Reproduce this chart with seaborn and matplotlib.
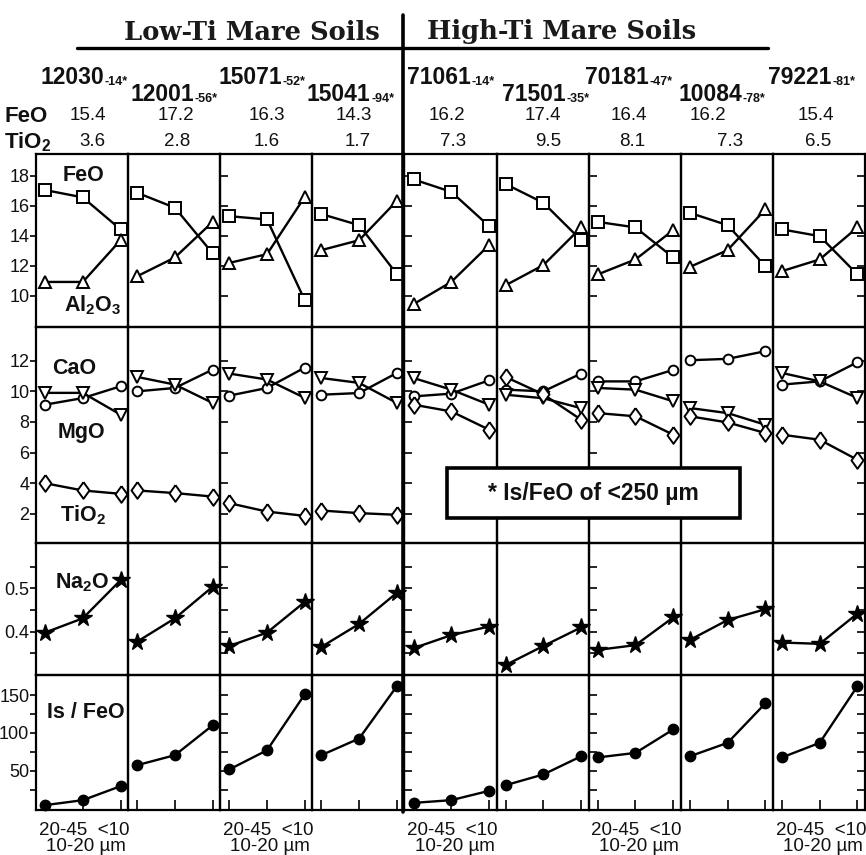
import numpy as np
import pandas as pd
import seaborn as sns
import matplotlib
matplotlib.use("Agg")
import matplotlib.pyplot as plt
from matplotlib.lines import Line2D
from matplotlib.patches import Rectangle

sns.set_theme(style="white")
plt.rcParams["font.family"] = ["Liberation Sans", "DejaVu Sans"]
plt.rcParams["mathtext.fontset"] = "custom"
plt.rcParams["mathtext.rm"] = "Liberation Sans"
plt.rcParams["mathtext.bf"] = "Liberation Sans:bold"
plt.rcParams["mathtext.it"] = "Liberation Sans:italic"

# ---------------- data ----------------
samples = ["12030", "12001", "15071", "15041", "71061", "71501", "70181", "10084", "79221"]
bulk_isfeo = ["-14*", "-56*", "-52*", "-94*", "-14*", "-35*", "-47*", "-78*", "-81*"]
bulk_feo = ["15.4", "17.2", "16.3", "14.3", "16.2", "17.4", "16.4", "16.2", "15.4"]
bulk_tio2 = ["3.6", "2.8", "1.6", "1.7", "7.3", "9.5", "8.1", "7.3", "6.5"]
fractions = ["20-45", "10-20", "<10"]

feo = [[17.05, 16.56, 14.43], [16.87, 15.87, 12.83], [15.31, 15.09, 9.71],
       [15.45, 14.71, 11.45], [17.76, 16.93, 14.65], [17.45, 16.20, 13.71],
       [14.93, 14.56, 12.56], [15.53, 14.71, 11.98], [14.43, 13.98, 11.43]]
al2o3 = [[10.93, 10.93, 13.71], [11.31, 12.56, 14.93], [12.20, 12.78, 16.60],
         [13.05, 13.71, 16.33], [9.45, 10.93, 13.38], [10.71, 12.05, 14.56],
         [11.43, 12.43, 14.38], [11.93, 13.05, 15.76], [11.65, 12.43, 14.56]]
cao = [[9.13, 9.56, 10.33], [10.00, 10.22, 11.42], [9.72, 10.22, 11.55],
       [9.78, 9.89, 11.20], [9.67, 9.85, 10.72], [10.11, 10.00, 11.16],
       [10.65, 10.65, 11.40], [12.03, 12.12, 12.62], [10.44, 10.65, 11.90]]
mgo = [[9.90, 9.90, 8.48], [10.94, 10.44, 9.24], [11.16, 10.77, 9.57],
       [10.87, 10.55, 9.24], [10.87, 10.11, 9.13], [9.78, 9.55, 8.90],
       [10.22, 10.11, 9.35], [8.91, 8.58, 7.82], [11.20, 10.65, 9.57]]
tio2 = [[4.00, 3.53, 3.31], [3.53, 3.36, 3.13], [2.70, 2.15, 1.87],
        [2.22, 2.05, 1.94], [9.13, 8.69, 7.50], [10.94, 9.80, 8.15],
        [8.58, 8.37, 7.17], [8.37, 7.97, 7.28], [7.17, 6.84, 5.53]]
na2o = [[0.398, 0.431, 0.519], [0.377, 0.431, 0.504], [0.367, 0.398, 0.469],
        [0.365, 0.418, 0.490], [0.362, 0.392, 0.412], [0.323, 0.367, 0.410],
        [0.358, 0.369, 0.433], [0.381, 0.427, 0.452], [0.375, 0.372, 0.442]]
isfeo = [[4.4, 11.0, 29.5], [57.3, 70.5, 110.0], [51.6, 77.0, 151.0],
         [70.5, 92.5, 161.8], [7.4, 11.0, 23.3], [30.8, 45.0, 69.0],
         [67.5, 73.5, 104.5], [69.0, 86.8, 139.0], [67.5, 86.8, 161.8]]

# ---------------- layout helpers ----------------
W, H = 866, 855
fig = plt.figure(figsize=(W / 100, H / 100), dpi=100)
fig.patch.set_facecolor("white")


def P(x, y):
    return (x / W, 1 - y / H)


gs = fig.add_gridspec(4, 9, left=36 / W, right=865 / W, top=1 - 154 / H, bottom=1 - 810 / H,
                      wspace=0, hspace=0, height_ratios=[173, 216, 132, 135])

diamond = [(0, 1), (0.72, 0), (0, -1), (-0.72, 0), (0, 1)]
open_kw = dict(color="black", markerfacecolor="white", markeredgecolor="black",
               markeredgewidth=1.4, linewidth=1.7, clip_on=False)
fill_kw = dict(color="black", markerfacecolor="black", markeredgecolor="black",
               markeredgewidth=1.0, linewidth=1.7, clip_on=False)

panels = [
    dict(series=[(feo, "s", 8.5, open_kw), (al2o3, "^", 9, open_kw)],
         ylim=(7.93, 19.45), ticks=[10, 12, 14, 16, 18], labels=["10", "12", "14", "16", "18"]),
    dict(series=[(cao, "o", 7, open_kw), (mgo, "v", 9, open_kw), (tio2, diamond, 12, open_kw)],
         ylim=(0.1, 14.2), ticks=[2, 4, 6, 8, 10, 12], labels=["2", "4", "6", "8", "10", "12"]),
    dict(series=[(na2o, "*", 13, fill_kw)],
         ylim=(0.30, 0.605), ticks=[0.35, 0.4, 0.45, 0.5, 0.55], labels=["", "0.4", "", "0.5", ""]),
    dict(series=[(isfeo, "o", 7.5, fill_kw)],
         ylim=(-2, 176.5), ticks=[25, 50, 75, 100, 125, 150], labels=["", "50", "", "100", "", "150"]),
]

xpos = [0, 1, 2]
for r, pan in enumerate(panels):
    for c in range(9):
        ax = fig.add_subplot(gs[r, c])
        ax.patch.set_visible(False)
        for data, mk, ms, kw in pan["series"]:
            df = pd.DataFrame({"x": xpos, "y": data[c]})
            sns.lineplot(data=df, x="x", y="y", ax=ax, marker=mk, markersize=ms, **kw)
        ax.set_xlim(-0.24, 2.2)
        ax.set_ylim(*pan["ylim"])
        ax.set_xlabel("")
        ax.set_ylabel("")
        for sp in ax.spines.values():
            sp.set_color("black")
            sp.set_linewidth(1.6)
        ax.set_yticks(pan["ticks"])
        ax.set_yticklabels(pan["labels"])
        if r == 3:
            ax.set_xticks(xpos)
            ax.tick_params(axis="x", direction="in", length=7, width=1.2, bottom=True,
                           labelbottom=False, color="black")
        else:
            ax.set_xticks([])
        if c == 0:
            ax.tick_params(axis="y", direction="out", length=4, width=1.2, left=True,
                           labelleft=True, labelsize=13, pad=0.8, color="black",
                           labelcolor="#111111")
        elif c in (2, 4, 6):
            ax.tick_params(axis="y", direction="in", length=6, width=1.2, left=True,
                           labelleft=False, color="black")
        elif c == 8:
            ax.tick_params(axis="y", direction="in", length=6, width=1.2, left=False, right=True,
                           labelleft=False, labelright=False, color="black")
        else:
            ax.tick_params(axis="y", left=False, labelleft=False)

# ---------------- figure-level decorations ----------------
fig.add_artist(Line2D([403 / W, 403 / W], [1 - 15 / H, 1 - 812 / H], color="black", lw=2.6,
                      transform=fig.transFigure, zorder=6))
fig.add_artist(Line2D([77 / W, 768 / W], [1 - 48 / H, 1 - 48 / H], color="black", lw=2.4,
                      transform=fig.transFigure, zorder=6))

hdr = dict(family="DejaVu Serif", fontweight="heavy", fontsize=18.5, ha="center", va="center",
           color="#1a1a1a")
fig.text(*P(252, 32), "Low-Ti Mare Soils", **hdr)
fig.text(*P(562, 32), "High-Ti Mare Soils", **hdr)

name_x = [40, 130, 218, 307, 407, 502, 585, 678, 768]
feo_x = [88, 176, 267, 354, 447, 543, 629, 708, 816]
feo_y = [116, 116, 116, 116, 116, 116, 116, 115, 116]
tio_x = [92, 177, 267, 358, 453, 548, 632, 730, 818]
for i, s in enumerate(samples):
    y = 84 if i % 2 == 0 else 101
    t = fig.text(*P(name_x[i], y), s, fontsize=16.5, fontweight="bold", ha="left",
                 va="baseline", color="#111111")
    plt.annotate(bulk_isfeo[i], xy=(1, 0), xycoords=t, xytext=(0.5, 0.6), textcoords="offset points",
                 fontsize=9, fontweight="bold", ha="left", va="bottom", color="#111111",
                 annotation_clip=False)
    fig.text(*P(feo_x[i], feo_y[i]), bulk_feo[i], fontsize=13.5, ha="center", va="center",
             color="#111111")
    fig.text(*P(tio_x[i], 142), bulk_tio2[i], fontsize=13.5, ha="center", va="center",
             color="#111111")

lab = dict(fontsize=16, fontweight="bold", ha="left", va="center", color="#111111")
fig.text(*P(4, 116), "FeO", **lab)
fig.text(*P(4, 142), r"$\mathbf{TiO_2}$", **lab)

plab = dict(fontsize=15.5, fontweight="bold", ha="center", va="center", color="#111111")
fig.text(*P(83, 175), "FeO", **plab)
fig.text(*P(93, 305), r"$\mathbf{Al_2O_3}$", **plab)
fig.text(*P(74, 368), "CaO", **plab)
fig.text(*P(81, 432), "MgO", **plab)
fig.text(*P(83, 515), r"$\mathbf{TiO_2}$", **plab)
fig.text(*P(82, 583), r"$\mathbf{Na_2O}$", **plab)
fig.text(*P(86, 713), "Is / FeO", **plab)

# legend-like box
fig.add_artist(Rectangle((447 / W, 1 - 518 / H), (740 - 447) / W, (518 - 468) / H,
                         facecolor="white", edgecolor="black", lw=2.6,
                         transform=fig.transFigure, zorder=7))
fig.text(*P(593, 493), "* Is/FeO of <250 µm", fontsize=16.5, fontweight="bold", ha="center",
         va="center", color="#111111", zorder=8)

# size-fraction labels under alternating columns
col_edges = np.linspace(36, 865, 10)
for c in (0, 2, 4, 6, 8):
    cx = (col_edges[c] + col_edges[c + 1]) / 2 + 2
    fig.text(*P(cx, 830), f"{fractions[0]}  {fractions[2]}", fontsize=13.5, ha="center",
             va="center", color="#111111")
    fig.text(*P(cx + 2, 846), f"{fractions[1]} µm", fontsize=13.5, ha="center", va="center",
             color="#111111")

fig.savefig("out.png", dpi=100, facecolor="white")
